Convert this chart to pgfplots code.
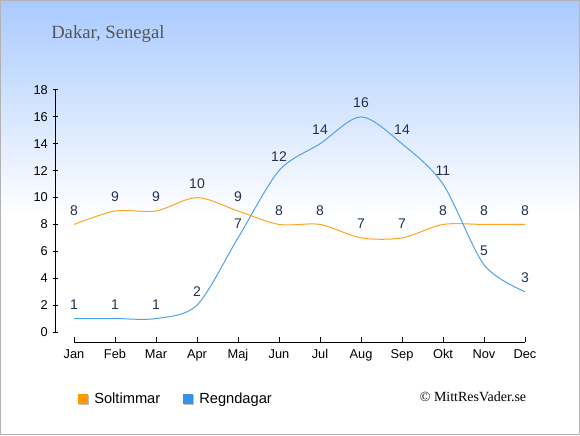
\documentclass[border=0pt]{standalone}
\usepackage{pgfplots}
\pgfplotsset{compat=1.18}
\usepackage{fontspec}
\setmainfont{Liberation Sans}
\newfontfamily\seriffont{Liberation Serif}
\definecolor{skytop}{HTML}{A9CAFF}
\definecolor{solc}{HTML}{FFA526}
\definecolor{regnc}{HTML}{4FA3EC}
\definecolor{solsq}{HTML}{FF9900}
\definecolor{regnsq}{HTML}{3592E6}
\definecolor{lab}{HTML}{233050}
\definecolor{titlec}{HTML}{555555}
\begin{document}
\begin{tikzpicture}[x=1pt,y=1pt]
\path[use as bounding box] (0,0) rectangle (435,326.25);
\fill[white] (0,0) rectangle (435,165);
\shade[top color=skytop,bottom color=white] (0,164.5) rectangle (435,326.25);
\draw[line width=0.75pt, color=black!30] (0.375,0.375) rectangle (434.625,325.875);
\node[anchor=base west, inner sep=0pt, text=titlec, font=\seriffont\fontsize{14}{16}\selectfont] at (38.25,297.5) {Dakar, Senegal};
% legend
\fill[black!25] (59.25,22.5) rectangle (66.75,30);
\fill[solsq] (58.5,23.25) rectangle (66,30.75);
\node[anchor=base west, inner sep=0pt, font=\fontsize{11}{13}\selectfont] at (70.5,24) {Soltimmar};
\fill[black!25] (138,22.5) rectangle (145.5,30);
\fill[regnsq] (137.25,23.25) rectangle (144.75,30.75);
\node[anchor=base west, inner sep=0pt, font=\fontsize{11}{13}\selectfont] at (149.25,24) {Regndagar};
\node[anchor=base, inner sep=0pt, font=\seriffont\fontsize{10.5}{12}\selectfont] at (354.75,25) {© MittResVader.se};
\begin{axis}[
  at={(55.5pt,77.25pt)}, anchor=south west,
  scale only axis, width=338.25pt, height=181.5pt,
  xmin=0, xmax=11, ymin=0, ymax=18,
  axis x line*=bottom, axis y line*=left,
  axis x line shift=7.5pt, axis y line shift=14.25pt,
  axis line style={line width=0.75pt},
  xtick={0,...,11},
  xticklabels={Jan,Feb,Mar,Apr,Maj,Jun,Jul,Aug,Sep,Okt,Nov,Dec},
  ytick={0,2,...,18},
  tick align=center, major tick length=3.75pt,
  tick style={line width=0.75pt, black},
  x tick style={yshift=1.875pt},
  ticklabel style={font=\fontsize{9.6}{11}\selectfont},
  /pgf/number format/assume math mode=true,
  clip=false,
  nodes near coords,
  nodes near coords style={anchor=south, inner sep=0pt, yshift=6.4pt, font=\fontsize{10.5}{12}\selectfont, text=lab, /pgf/number format/assume math mode=true},
]
\addplot[solc, line width=0.75pt, smooth] coordinates {
(0,8) (1,9) (2,9) (3,10) (4,9) (5,8) (6,8) (7,7) (8,7) (9,8) (10,8) (11,8)};
\addplot[regnc, line width=0.75pt, smooth] coordinates {
(0,1) (1,1) (2,1) (3,2) (4,7) (5,12) (6,14) (7,16) (8,14) (9,11) (10,5) (11,3)};
\end{axis}
\end{tikzpicture}
\end{document}
